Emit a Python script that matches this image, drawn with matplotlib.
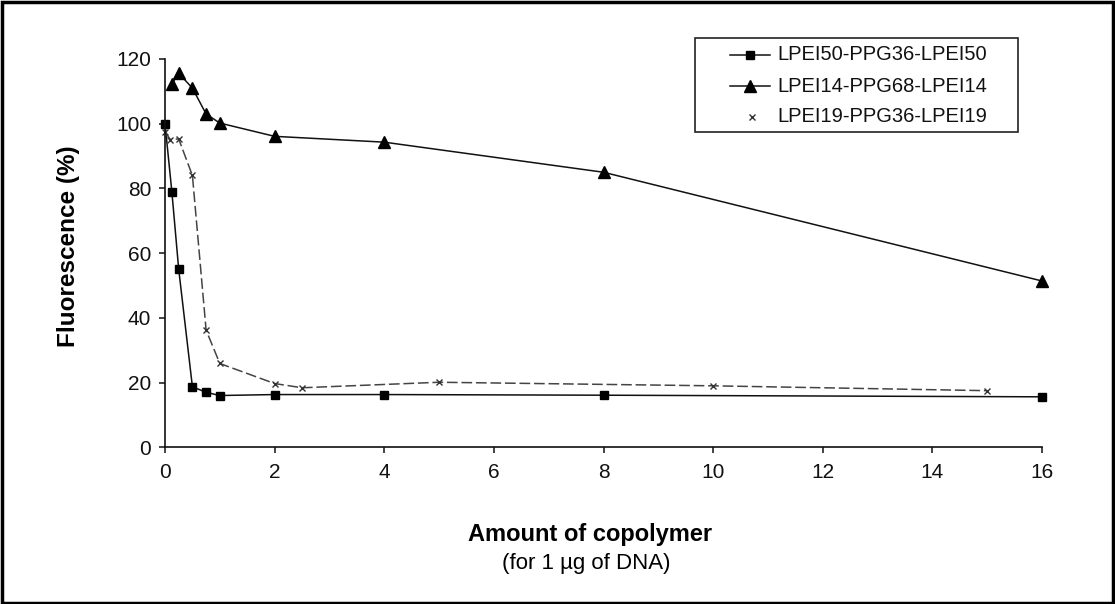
import matplotlib
matplotlib.use("Agg")
import matplotlib.pyplot as plt
from matplotlib.lines import Line2D
from matplotlib.patches import Rectangle

plt.rcParams['font.family'] = ['Liberation Sans', 'DejaVu Sans']

# Data
x_lpei50 = [0, 0.125, 0.25, 0.5, 0.75, 1, 2, 4, 8, 16]
y_lpei50 = [100, 79, 55, 18.7, 17.0, 16.0, 16.3, 16.3, 16.1, 15.6]

x_lpei14 = [0.125, 0.25, 0.5, 0.75, 1, 2, 4, 8, 16]
y_lpei14 = [112.3, 115.6, 111, 103, 100.2, 96.1, 94.3, 85, 51.4]

x_lpei19 = [0, 0.1, 0.25, 0.5, 0.75, 1, 2, 2.5, 5, 10, 15]
y_lpei19 = [97.4, 95.1, 95.3, 84, 36.2, 25.9, 19.7, 18.4, 20.1, 19.0, 17.5]

labels = ["LPEI50-PPG36-LPEI50", "LPEI14-PPG68-LPEI14", "LPEI19-PPG36-LPEI19"]
x_ticks = [0, 2, 4, 6, 8, 10, 12, 14, 16]
y_ticks = [0, 20, 40, 60, 80, 100, 120]

W, H = 1115, 604
fig = plt.figure(figsize=(W / 100, H / 100), dpi=100)
ax = fig.add_axes([165 / W, 1 - 447.3 / H, (1042 - 165) / W, (447.3 - 59) / H])

sq_style = dict(color='#111111', lw=1.1, marker='s', ms=5.5, mfc='black', mec='black')
tri_style = dict(color='#111111', lw=1.1, marker='^', ms=8, mfc='black', mec='black')
x_style = dict(marker='x', ms=5, mec='#333333', mew=1.0)

ax.plot(x_lpei50, y_lpei50, **sq_style)
ax.plot(x_lpei14, y_lpei14, **tri_style)
ax.plot(x_lpei19, y_lpei19, color='#444444', lw=1.1, ls=(0, (7, 2.5)), **x_style)

ax.set_xlim(0, 16)
ax.set_ylim(0, 120)
ax.set_xticks(x_ticks)
ax.set_yticks(y_ticks)
ax.set_xticklabels([str(v) for v in x_ticks])
ax.set_yticklabels([str(v) for v in y_ticks])
for s in ['top', 'right']:
    ax.spines[s].set_visible(False)
for s in ['left', 'bottom']:
    ax.spines[s].set_linewidth(1.2)
    ax.spines[s].set_color('#111111')
ax.tick_params(axis='both', direction='out', length=4, width=1.1,
               labelsize=15, colors='#111111')
ax.tick_params(axis='x', pad=7)
ax.tick_params(axis='y', pad=6)
for ln in ax.lines:
    ln.set_clip_on(False)

ax.set_ylabel("Fluorescence (%)", fontsize=17.5, fontweight='bold')
ax.yaxis.set_label_coords((80 - 165) / (1042 - 165), (447.3 - 246) / (447.3 - 59))

fig.text(590 / W, 1 - 535 / H, "Amount of copolymer", ha='center', va='center',
         fontsize=17, fontweight='bold')
fig.text(586 / W, 1 - 564 / H, "(for 1 \u00b5g of DNA)", ha='center', va='center',
         fontsize=16)

# Legend drawn manually in figure pixel coordinates
def fx(px):
    return px / W

def fy(py):
    return 1 - py / H

fig.patches.append(Rectangle((fx(695), fy(132)), fx(1018) - fx(695), fy(38) - fy(132),
                             transform=fig.transFigure, fill=True, facecolor='white',
                             edgecolor='#222222', lw=1.2, zorder=5))
row_y = [55, 86, 117]
styles = [sq_style, tri_style, None]
for ry, lab, st in zip(row_y, labels, styles):
    if st is not None:
        fig.add_artist(Line2D([fx(730), fx(770)], [fy(ry), fy(ry)], color=st['color'],
                              lw=st['lw'], transform=fig.transFigure, zorder=6))
        fig.add_artist(Line2D([fx(750)], [fy(ry)], ls='none', marker=st['marker'],
                              ms=st['ms'], mfc='black', mec='black',
                              transform=fig.transFigure, zorder=7))
    else:
        fig.add_artist(Line2D([fx(752)], [fy(ry)], ls='none', transform=fig.transFigure,
                              zorder=7, **x_style))
    fig.text(fx(777), fy(ry), lab, ha='left', va='center', fontsize=14.5,
             color='#111111', zorder=8)

fig.patches.append(Rectangle((0.0015, 0.002), 0.9965, 0.995, transform=fig.transFigure,
                             fill=False, edgecolor='black', lw=2.5))

fig.savefig("out.png", dpi=100)
